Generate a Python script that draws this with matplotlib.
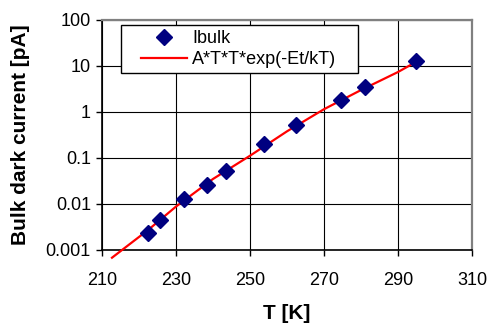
import matplotlib
matplotlib.use("Agg")
import matplotlib.pyplot as plt
from matplotlib.lines import Line2D
from matplotlib.legend_handler import HandlerLine2D

# Measured data (Ibulk)
T_data = [222.4, 225.7, 232.2, 238.5, 243.4, 253.9, 262.4, 274.5, 281.1, 294.9]
I_data = [0.0024, 0.0044, 0.0126, 0.026, 0.052, 0.20, 0.51, 1.85, 3.5, 12.6]

# Fit curve A*T*T*exp(-Et/kT)
T_fit = [212.7, 222.4, 230, 240, 250, 260, 270, 280, 290, 294.9]
I_fit = [0.00068, 0.0027, 0.0088, 0.035, 0.112, 0.38, 1.15, 3.0, 7.4, 12.3]

x_ticks = [210, 230, 250, 270, 290, 310]
y_ticks = [0.001, 0.01, 0.1, 1, 10, 100]
y_ticklabels = ["0.001", "0.01", "0.1", "1", "10", "100"]

plt.rcParams['font.family'] = ['Liberation Sans', 'DejaVu Sans']

W, H = 489, 324
fig = plt.figure(figsize=(W / 100, H / 100), dpi=100)
ax = fig.add_axes([102 / W, 1 - 250 / H, (472 - 102) / W, (250 - 20) / H])

ax.set_yscale('log')
ax.set_xlim(210, 310)
ax.set_ylim(0.001, 100)

ax.grid(True, which='major', color='black', linewidth=0.8)
ax.set_axisbelow(True)

fit_line, = ax.plot(T_fit, I_fit, color='#ff0000', linewidth=1.6,
                    label='A*T*T*exp(-Et/kT)', clip_on=False, zorder=3)
pts, = ax.plot(T_data, I_data, linestyle='none', marker='D', markersize=8.5,
               color='#000080', markeredgecolor='#000080', label='Ibulk', zorder=4)

ax.set_xticks(x_ticks)
ax.set_xticklabels([str(v) for v in x_ticks])
ax.set_yticks(y_ticks)
ax.set_yticklabels(y_ticklabels)
ax.minorticks_off()
ax.tick_params(axis='both', which='major', labelsize=13, length=4.5, width=1,
               direction='out', color='black')
ax.tick_params(axis='y', pad=3.5)
ax.tick_params(axis='x', pad=11)

for s in ['left', 'bottom']:
    ax.spines[s].set_color('black')
    ax.spines[s].set_linewidth(1.2)
for s in ['top', 'right']:
    ax.spines[s].set_color('#808080')
    ax.spines[s].set_linewidth(1.6)

ax.set_xlabel('T [K]', fontsize=15, fontweight='bold', labelpad=11)
ax.set_ylabel('Bulk dark current [pA]', fontsize=15, fontweight='bold', labelpad=11)

leg = ax.legend([pts, fit_line], ['Ibulk', 'A*T*T*exp(-Et/kT)'],
                loc='upper left',
                bbox_to_anchor=(121 / W, 1 - 73 / H, (358 - 121) / W, (73 - 25) / H),
                bbox_transform=fig.transFigure, mode='expand',
                fontsize=13, frameon=True, fancybox=False, borderaxespad=0,
                borderpad=0.3, labelspacing=0.2, handlelength=3.36,
                handletextpad=0.28, numpoints=1,
                handler_map={Line2D: HandlerLine2D(xpad=0.81)})
frame = leg.get_frame()
frame.set_edgecolor('black')
frame.set_linewidth(1.0)
frame.set_facecolor('white')
frame.set_alpha(1)

fig.savefig('out.png', dpi=100, facecolor='white')
